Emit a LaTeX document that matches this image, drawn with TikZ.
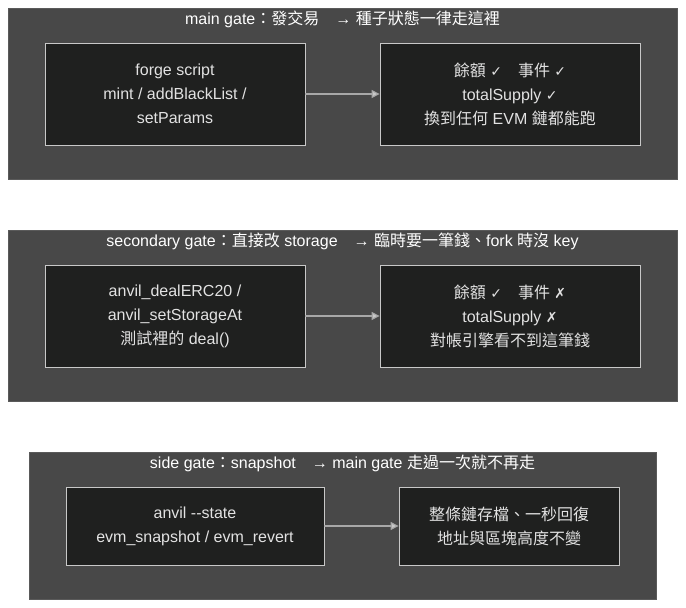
\documentclass[tikz,border=0pt]{standalone}
\usepackage{fontspec}
\setmainfont{Liberation Sans}
\newfontfamily\cjkfont{Noto Sans CJK TC}
\newfontfamily\symbfont{DejaVu Sans}
\newcommand{\zh}[1]{{\cjkfont #1}}
\newcommand{\cmark}{{\symbfont\fontsize{14}{24}\selectfont ✓}}
\newcommand{\xmark}{{\symbfont\fontsize{14}{24}\selectfont ✗}}
\usepackage{tikz}
\usetikzlibrary{positioning,arrows.meta,backgrounds}
\definecolor{gatefill}{HTML}{484848}
\definecolor{gateline}{HTML}{5A5A5A}
\definecolor{boxfill}{HTML}{1F201F}
\definecolor{boxline}{HTML}{C8C8C8}
\definecolor{boxtext}{HTML}{E2E2E2}
\definecolor{flowline}{HTML}{A8A8A8}
\begin{document}
\begin{tikzpicture}[x=1pt,y=-1pt,
  gate/.style={draw=gateline,fill=gatefill,line width=0.6pt,inner sep=0pt},
  gatetitle/.style={text=white,font=\fontsize{16}{24}\selectfont,inner sep=0pt},
  stagebox/.style={draw=boxline,fill=boxfill,line width=0.8pt,text=boxtext,align=center,
    font=\fontsize{16}{24}\selectfont,minimum height=102pt,minimum width=260pt,inner sep=0pt},
  flow/.style={draw=flowline,line width=1.2pt,-{Triangle[length=8pt,width=8pt,fill=boxline]}}]
\useasboundingbox (0,0) rectangle (686,608);
\fill[white] (0,0) rectangle (686,608);
\node[gate,minimum width=669pt,minimum height=171pt] (main) at (342.5,93.5) {};
\node[gate,minimum width=669pt,minimum height=171pt] (second) at (342.5,315.5) {};
\node[gate,minimum width=627pt,minimum height=147pt] (side) at (342.5,525.5) {};
\node[gatetitle] (maint) at (342.5,19) {main gate\zh{：發交易　}→ \zh{種子狀態一律走這裡}};
\node[gatetitle] (secondt) at (342.5,241) {secondary gate\zh{：直接改} storage\zh{　}→ \zh{臨時要一筆錢、}fork \zh{時沒} key};
\node[gatetitle] (sidet) at (342.5,463) {side gate\zh{：}snapshot\zh{　}→ main gate \zh{走過一次就不再走}};
\node[stagebox] (forge) at (175,94) {forge script\\mint / addBlackList /\\setParams};
\node[stagebox] (allok) at (510,94) {\zh{餘額} \cmark\quad\zh{事件} \cmark\\totalSupply \cmark\\\zh{換到任何} EVM \zh{鏈都能跑}};
\node[stagebox] (deal) at (175,316) {anvil\_dealERC20 /\\anvil\_setStorageAt\\\zh{測試裡的} deal()};
\node[stagebox] (partok) at (510,316) {\zh{餘額} \cmark\quad\zh{事件} \xmark\\totalSupply \xmark\\\zh{對帳引擎看不到這筆錢}};
\node[stagebox,minimum width=258pt,minimum height=78pt] (state) at (195,526) {anvil -{}-state\\evm\_snapshot / evm\_revert};
\node[stagebox,minimum width=220pt,minimum height=78pt] (restore) at (509,526) {\zh{整條鏈存檔、一秒回復}\\\zh{地址與區塊高度不變}};
\draw[flow] (forge) -- (allok);
\draw[flow] (deal) -- (partok);
\draw[flow] (state) -- (restore);
\end{tikzpicture}
\end{document}
